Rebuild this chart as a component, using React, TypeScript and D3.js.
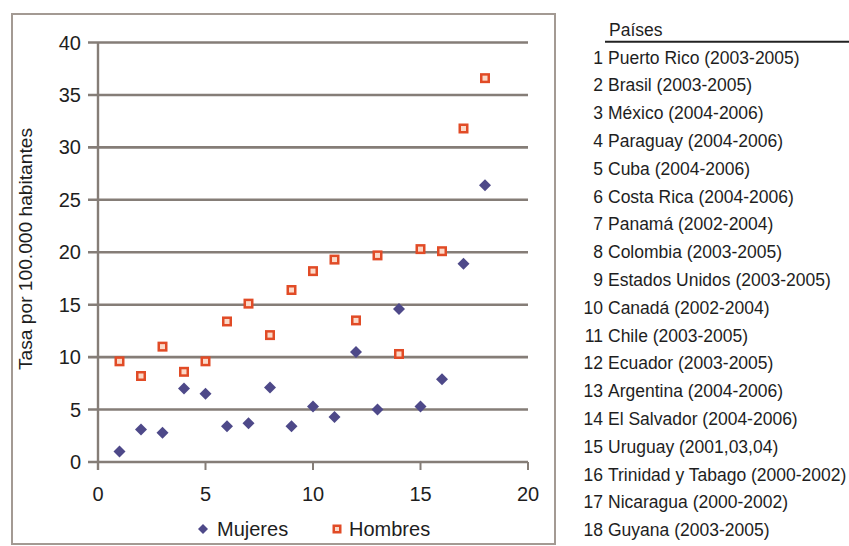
import React from "react";
import * as d3 from "d3";

const countryIndex = [1, 2, 3, 4, 5, 6, 7, 8, 9, 10, 11, 12, 13, 14, 15, 16, 17, 18];
const mujeres = [1.0, 3.1, 2.8, 7.0, 6.5, 3.4, 3.7, 7.1, 3.4, 5.3, 4.3, 10.5, 5.0, 14.6, 5.3, 7.9, 18.9, 26.4];
const hombres = [9.6, 8.2, 11.0, 8.6, 9.6, 13.4, 15.1, 12.1, 16.4, 18.2, 19.3, 13.5, 19.7, 10.3, 20.3, 20.1, 31.8, 36.6];
const countries = [
  "Puerto Rico (2003-2005)",
  "Brasil (2003-2005)",
  "México (2004-2006)",
  "Paraguay (2004-2006)",
  "Cuba (2004-2006)",
  "Costa Rica (2004-2006)",
  "Panamá (2002-2004)",
  "Colombia (2003-2005)",
  "Estados Unidos (2003-2005)",
  "Canadá (2002-2004)",
  "Chile (2003-2005)",
  "Ecuador (2003-2005)",
  "Argentina (2004-2006)",
  "El Salvador (2004-2006)",
  "Uruguay (2001,03,04)",
  "Trinidad y Tabago (2000-2002)",
  "Nicaragua (2000-2002)",
  "Guyana (2003-2005)",
];
const xTicks = [0, 5, 10, 15, 20];
const yTicks = [0, 5, 10, 15, 20, 25, 30, 35, 40];
const yTitle = "Tasa por 100.000 habitantes";
const listTitle = "Países";
const seriesNames = ["Mujeres", "Hombres"];

const FONT = "'Liberation Sans', Arial, sans-serif";
const GRID = "#857d77";
const MUJ = "#4e4989";
const HOM = "#e14b26";
const TXT = "#1e1e1e";

function Diamond({ cx, cy, r }: { cx: number; cy: number; r: number }) {
  return (
    <path
      d={`M${cx},${cy - r}L${cx + r},${cy}L${cx},${cy + r}L${cx - r},${cy}Z`}
      fill={MUJ}
    />
  );
}

function Square({ cx, cy, s }: { cx: number; cy: number; s: number }) {
  return (
    <g>
      <rect x={cx - s / 2} y={cy - s / 2} width={s} height={s} fill={HOM} />
      <rect x={cx - s / 2 + 2.5} y={cy - s / 2 + 2.5} width={s - 5} height={s - 5} fill="#fbd9c8" />
    </g>
  );
}

export default function App() {
  const x = d3.scaleLinear().domain([0, 20]).range([98, 528]);
  const y = d3.scaleLinear().domain([0, 40]).range([462, 42.5]);
  const rowY = d3.scaleLinear().domain([1, 18]).range([57, 529.6]);

  return (
    <svg
      width={849}
      height={546}
      style={{ position: "absolute", left: 0, top: 0, background: "#fff" }}
      fontFamily={FONT}
    >
      <rect x={0} y={0} width={849} height={546} fill="#fff" />
      {/* frame */}
      <rect x={12} y={14} width={543} height={530} fill="none" stroke="#a39a93" strokeWidth={2} />

      {/* gridlines */}
      {yTicks.map((t) => (
        <line key={"g" + t} x1={88} x2={528} y1={y(t)} y2={y(t)} stroke={GRID} strokeWidth={2.6} />
      ))}
      {/* y axis */}
      <line x1={98} x2={98} y1={y(40)} y2={y(0) + 8} stroke={GRID} strokeWidth={2.4} />
      {/* x ticks */}
      {xTicks.map((t) => (
        <line key={"xt" + t} x1={x(t)} x2={x(t)} y1={y(0)} y2={y(0) + 8} stroke={GRID} strokeWidth={2} />
      ))}
      {/* y labels */}
      {yTicks.map((t) => (
        <text key={"yl" + t} x={81} y={y(t) + 7} textAnchor="end" fontSize={20} fill={TXT}>
          {t}
        </text>
      ))}
      {/* x labels */}
      {xTicks.map((t) => (
        <text key={"xl" + t} x={x(t)} y={501} textAnchor="middle" fontSize={20} fill={TXT}>
          {t}
        </text>
      ))}
      {/* y title */}
      <text
        transform={`translate(32,249) rotate(-90)`}
        textAnchor="middle"
        fontSize={18}
        fill={TXT}
        textLength={242}
        lengthAdjust="spacingAndGlyphs"
      >
        {yTitle}
      </text>

      {/* points */}
      {countryIndex.map((c, i) => (
        <Diamond key={"m" + c} cx={x(c)} cy={y(mujeres[i])} r={6} />
      ))}
      {countryIndex.map((c, i) => (
        <Square key={"h" + c} cx={x(c)} cy={y(hombres[i])} s={10} />
      ))}

      {/* legend */}
      <Diamond cx={203} cy={529} r={5} />
      <text x={217} y={536} fontSize={20} fill={TXT}>
        {seriesNames[0]}
      </text>
      <Square cx={337} cy={529} s={9} />
      <text x={349} y={536} fontSize={20} fill={TXT}>
        {seriesNames[1]}
      </text>

      {/* country list */}
      <text x={609} y={36} fontSize={17.5} fill={TXT}>
        {listTitle}
      </text>
      <line x1={605} x2={849} y1={41.7} y2={41.7} stroke="#222" strokeWidth={2} />
      {countries.map((name, i) => (
        <g key={"c" + i}>
          <text x={603} y={rowY(countryIndex[i]) + 6.5} textAnchor="end" fontSize={17.5} fill={TXT}>
            {countryIndex[i]}
          </text>
          <text x={608} y={rowY(countryIndex[i]) + 6.5} fontSize={17.5} fill={TXT}>
            {name}
          </text>
        </g>
      ))}
    </svg>
  );
}
